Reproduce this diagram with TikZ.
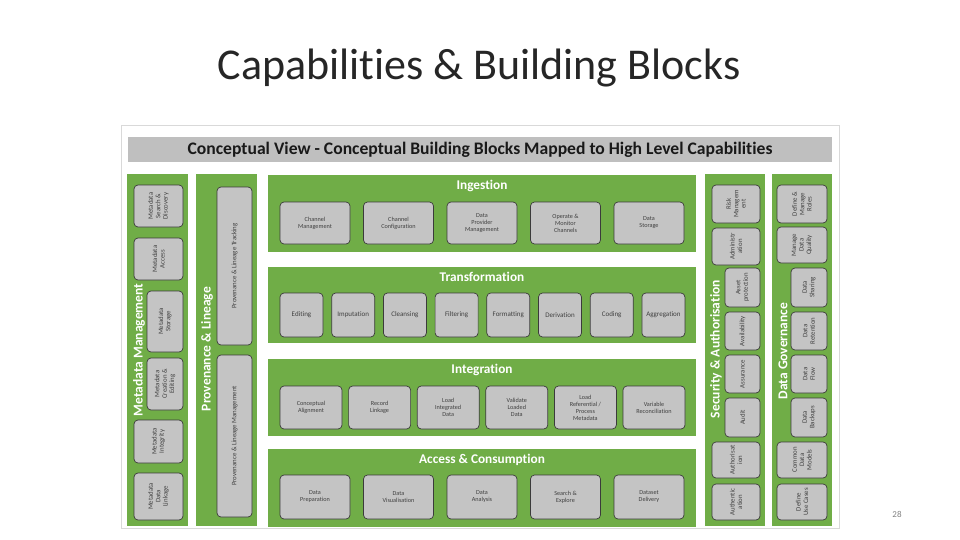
\documentclass[tikz,border=0pt]{standalone}
\usepackage{fontspec}
\setmainfont[Ligatures=CommonOff]{Carlito}
\definecolor{grn}{HTML}{70AD47}
\definecolor{cellgrey}{HTML}{C4C4C4}
\definecolor{cellline}{HTML}{3B3B3B}
\definecolor{celltext}{HTML}{404040}
\definecolor{headgrey}{HTML}{BFBFBF}

\begin{document}
\begin{tikzpicture}[
    x=1pt, y=-1pt,
    cell/.style={draw=cellline, fill=cellgrey, rounded corners=4pt, line width=0.7pt, align=center, inner sep=0.5pt, text=celltext, font=\fontsize{6.2}{7}\selectfont},
    vcell/.style={cell, rotate=90, font=\fontsize{6.8}{7.4}\selectfont},
    bandtitle/.style={text=white, font=\bfseries\fontsize{13.3}{15}\selectfont},
    sidetitle/.style={text=white, rotate=90, font=\bfseries\fontsize{13.5}{15}\selectfont}
  ]
  \useasboundingbox (0,0) rectangle (960,540);
  \node[font=\fontsize{44}{48}\selectfont, text=black!85] (title) at (479,68) {Capabilities \& Building Blocks};
  \draw[black!15, line width=0.8pt] (121,125) rectangle (839,528);
  \node[fill=headgrey, minimum width=704pt, minimum height=25pt, font=\bfseries\fontsize{17.6}{19}\selectfont, text=black!90] (head) at (480,149.5) {Conceptual View - Conceptual Building Blocks Mapped to High Level Capabilities};
  % side columns and bands
  \fill[grn] (127,174) rectangle (188,526);
  \fill[grn] (196,174) rectangle (257,526);
  \fill[grn] (705,174) rectangle (765,526);
  \fill[grn] (772,174) rectangle (832,526);
  \fill[grn] (268,175) rectangle (696,252);
  \fill[grn] (268,267) rectangle (696,343);
  \fill[grn] (268,359) rectangle (696,436);
  \fill[grn] (268,449) rectangle (696,527);
  \node[bandtitle] (ingestion) at (482,186) {Ingestion};
  \node[bandtitle] (transformation) at (482,277) {Transformation};
  \node[bandtitle] (integration) at (482,370) {Integration};
  \node[bandtitle] (access) at (482,460) {Access \& Consumption};
  \node[sidetitle] (metamgmt) at (139,350) {Metadata Management};
  \node[sidetitle] (provlin) at (207,349) {Provenance \& Lineage};
  \node[sidetitle] (secauth) at (716,349) {Security \& Authorisation};
  \node[sidetitle] (datagov) at (783,351) {Data Governance};
  % ingestion
  \foreach \n/\a/\t in {1/280/{Channel\\Management}, 2/363.5/{Channel\\Configuration}, 3/447/{Data\\Provider\\Management}, 4/530.5/{Operate \&\\Monitor\\Channels}, 5/614/{Data\\Storage}}
    \node[cell, minimum width=70pt, minimum height=42pt] (ing\n) at (\a+35,223) {\t};
  % transformation
  \foreach \t [count=\n from 0] in {Editing, Imputation, Cleansing, Filtering, Formatting, Derivation, Coding, Aggregation}
    \node[cell, minimum width=43pt, minimum height=44pt, font=\fontsize{7}{8}\selectfont] (tra\n) at (301.5+51.7*\n,315) {\t};
  % integration
  \foreach \t [count=\n from 0] in {{Conceptual\\Alignment}, {Record\\Linkage}, {Load\\Integrated\\Data}, {Validate\\Loaded\\Data}, {Load\\Referential /\\Process\\Metadata}, {Variable\\Reconciliation}}
    \node[cell, minimum width=62pt, minimum height=43pt] (int\n) at (311+68.6*\n,407.5) {\t};
  % access & consumption
  \foreach \n/\a/\t in {1/280/{Data\\Preparation}, 2/363.5/{Data\\Visualisation}, 3/447/{Data\\Analysis}, 4/530.5/{Search \&\\Explore}, 5/614/{Dataset\\Delivery}}
    \node[cell, minimum width=70pt, minimum height=44pt] (acc\n) at (\a+35,497) {\t};
  % metadata management
  \foreach \n/\xa/\xb/\ya/\yb/\t in {1/134/183/185/227/{Metadata\\Search \&\\Discovery}, 2/134/183/238/280/{Metadata\\Access}, 3/147/183/291/352/{Metadata\\Storage}, 4/147/183/358/410/{Metadata\\Creation \&\\Editing}, 5/134/183/420/463/{Metadata\\Integrity}, 6/134/183/473/520/{Metadata\\Data\\Linkage}}
    \node[vcell, minimum width={(\yb-\ya)*1pt}, minimum height={(\xb-\xa)*1pt}] (mm\n) at ({(\xa+\xb)/2},{(\ya+\yb)/2}) {\t};
  % provenance & lineage
  \foreach \n/\ya/\yb/\t in {1/187/345/{Provenance \& Lineage Tracking}, 2/355/517/{Provenance \& Lineage Management}}
    \node[vcell, minimum width={(\yb-\ya)*1pt}, minimum height=35pt] (pl\n) at (234.5,{(\ya+\yb)/2}) {\t};
  % security & authorisation
  \foreach \n/\xa/\ya/\yb/\t in {1/712/185/223/{Risk\\Managem\\ent}, 2/712/228/265/{Administr\\ation}, 3/725/268/307/{Asset\\protection}, 4/725/312/350/{Availability}, 5/725/355/393/{Assurance}, 6/725/398/437/{Audit}, 7/712/442/478/{Authorisat\\ion}, 8/712/484/520/{Authentic\\ation}}
    \node[vcell, minimum width={(\yb-\ya)*1pt}, minimum height={(760-\xa)*1pt}] (sa\n) at ({(\xa+760)/2},{(\ya+\yb)/2}) {\t};
  % data governance
  \foreach \n/\xa/\ya/\yb/\t in {1/777/185/223/{Define \&\\Manage\\Roles}, 2/777/227/263/{Manage\\Data\\Quality}, 3/791/268/307/{Data\\Sharing}, 4/791/312/350/{Data\\Retention}, 5/791/355/393/{Data\\Flow}, 6/791/398/437/{Data\\Backups}, 7/777/442/478/{Common\\Data\\Models}, 8/777/484/520/{Define\\Use Cases}}
    \node[vcell, minimum width={(\yb-\ya)*1pt}, minimum height={(827-\xa)*1pt}] (dg\n) at ({(\xa+827)/2},{(\ya+\yb)/2}) {\t};
  \node[text=gray, font=\fontsize{9}{10}\selectfont] (pgno) at (897,514) {28};
\end{tikzpicture}
\end{document}
